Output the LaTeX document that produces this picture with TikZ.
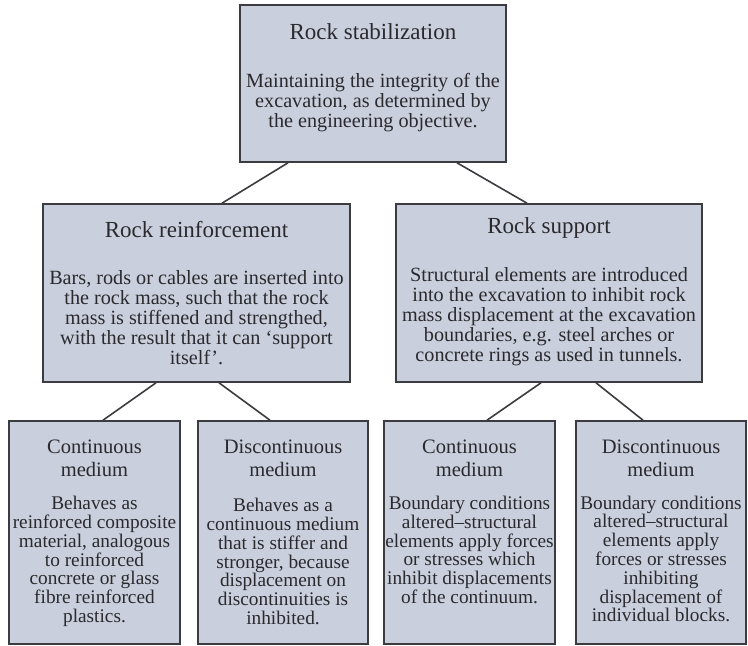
\documentclass[tikz,border=0pt]{standalone}
\usepackage{fontspec}
\setmainfont{Liberation Serif}
\usetikzlibrary{calc}
\definecolor{boxfill}{RGB}{201,207,220}
\definecolor{boxline}{RGB}{60,60,64}
\definecolor{ink}{RGB}{42,42,46}
\begin{document}
\begin{tikzpicture}[x=1pt,y=-1pt,
  box/.style={draw=boxline, line width=1.6pt, fill=boxfill, rectangle, inner sep=0pt},
  link/.style={draw=boxline, line width=1.6pt},
  ttlA/.style={text=ink, font=\fontsize{23}{25}\selectfont, align=center, inner sep=0pt},
  bodyA/.style={text=ink, font=\fontsize{20.2}{20}\selectfont, align=center, inner sep=0pt},
  ttlB/.style={text=ink, font=\fontsize{20.5}{22.5}\selectfont, align=center, inner sep=0pt},
  bodyB/.style={text=ink, font=\fontsize{19.3}{18.8}\selectfont, align=center, inner sep=0pt},
]
\useasboundingbox[fill=white] (0,0) rectangle (748,646);

% boxes
\node[box, minimum width=266pt, minimum height=157pt] (top) at (373,83.5) {};
\node[box, minimum width=307pt, minimum height=178pt] (left) at (196.5,293) {};
\node[box, minimum width=306pt, minimum height=178pt] (right) at (549,293) {};
\node[box, minimum width=171pt, minimum height=223pt] (b1) at (94.5,532.5) {};
\node[box, minimum width=170pt, minimum height=223pt] (b2) at (283,532.5) {};
\node[box, minimum width=171pt, minimum height=223pt] (b3) at (469.5,532.5) {};
\node[box, minimum width=170pt, minimum height=223pt] (b4) at (661,532.5) {};

% connectors
\draw[link] ([xshift=-85pt]top.south) -- ([xshift=25.5pt]left.north);
\draw[link] ([xshift=84pt]top.south) -- ([xshift=-22pt]right.north);
\draw[link] ([xshift=-40.5pt]left.south) -- ([xshift=8.5pt]b1.north);
\draw[link] ([xshift=22.5pt]left.south) -- ([xshift=-13pt]b2.north);
\draw[link] ([xshift=-8pt]right.south) -- ([xshift=17.5pt]b3.north);
\draw[link] ([xshift=47pt]right.south) -- ([xshift=-18pt]b4.north);

% texts
\node[ttlA] (topT) at (373,32) {Rock stabilization};
\node[bodyA] (topB) at (373,103) {Maintaining the integrity of the\\excavation, as determined by\\the engineering objective.};

\node[ttlA] (leftT) at (196.5,230) {Rock reinforcement};
\node[bodyA] (leftB) at (196.5,318) {Bars, rods or cables are inserted into\\the rock mass, such that the rock\\mass is stiffened and strengthed,\\with the result that it can `support\\itself'.};

\node[ttlA] (rightT) at (549,228) {Rock support};
\node[bodyA] (rightB) at (549,317) {Structural elements are introduced\\into the excavation to inhibit rock\\mass displacement at the excavation\\boundaries, e.g. steel arches or\\concrete rings as used in tunnels.};

\node[ttlB] (b1T) at (94.5,458.5) {Continuous\\medium};
\node[bodyB] (b1B) at (94.5,561.5) {Behaves as\\reinforced composite\\material, analogous\\to reinforced\\concrete or glass\\fibre reinforced\\plastics.};

\node[ttlB] (b2T) at (283,458.5) {Discontinuous\\medium};
\node[bodyB] (b2B) at (283,561.5) {Behaves as a\\continuous medium\\that is stiffer and\\stronger, because\\displacement on\\discontinuities is\\inhibited.};

\node[ttlB] (b3T) at (469.5,458.5) {Continuous\\medium};
\node[bodyB] (b3B) at (469.5,550) {Boundary conditions\\altered–structural\\elements apply forces\\or stresses which\\inhibit displacements\\of the continuum.};

\node[ttlB] (b4T) at (661,458.5) {Discontinuous\\medium};
\node[bodyB] (b4B) at (661,559) {Boundary conditions\\altered–structural\\elements apply\\forces or stresses\\inhibiting\\displacement of\\individual blocks.};
\end{tikzpicture}
\end{document}
